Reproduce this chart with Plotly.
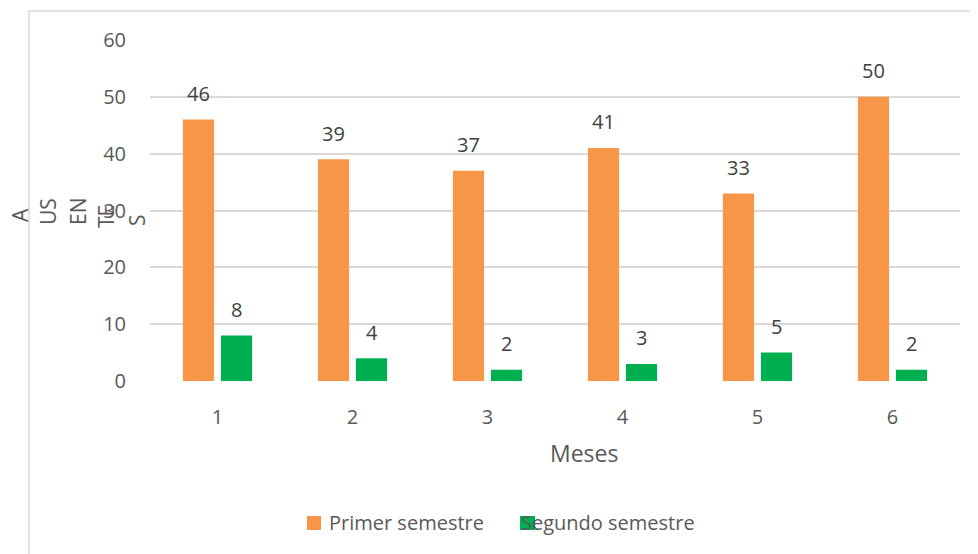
import plotly.graph_objects as go

meses = [1, 2, 3, 4, 5, 6]
primer = [46, 39, 37, 41, 33, 50]
segundo = [8, 4, 2, 3, 5, 2]
serie_nombres = ["Primer semestre", "Segundo semestre"]
y_ticks = [0, 10, 20, 30, 40, 50, 60]

ORANGE = "#F79646"
GREEN = "#00B050"
GRID = "#D9D9D9"
TXT = "#595959"
LBL = "#404040"
FONT = "Open Sans"

W, H = 978, 554
OFF = 8  # page body margin
L, T = 150 - OFF, 40 - OFF
R = W - (960 - OFF)
B = H - (381 - OFF)
PW = W - L - R
PH = H - T - B


def px(x):
    return (x - OFF - L) / PW


def py(y):
    return (H - B - (y - OFF)) / PH


fig = go.Figure()
fig.add_trace(go.Bar(x=meses, y=primer, name=serie_nombres[0], marker_color=ORANGE,
                     marker_line_width=0))
fig.add_trace(go.Bar(x=meses, y=segundo, name=serie_nombres[1], marker_color=GREEN,
                     marker_line_width=0))

ann = []
for m, v in zip(meses, primer):
    ann.append(dict(x=m, y=v, xref="x", yref="y", text=str(v), showarrow=False,
                    xshift=-19, yshift=26, font=dict(family=FONT, size=20, color=LBL)))
for m, v in zip(meses, segundo):
    ann.append(dict(x=m, y=v, xref="x", yref="y", text=str(v), showarrow=False,
                    xshift=19, yshift=26, font=dict(family=FONT, size=20, color=LBL)))

# Axis title "Meses"
ann.append(dict(x=px(584), y=py(453), xref="paper", yref="paper", text="Meses",
                showarrow=False, xanchor="center", yanchor="middle",
                font=dict(family=FONT, size=23, color=TXT)))

# Broken y-axis title "AUSENTES"
for txt, cx, cy in [("A", 20, 215), ("US", 48, 212), ("EN", 78, 212), ("TE", 106, 217), ("S", 137, 220)]:
    ann.append(dict(x=px(cx), y=py(cy), xref="paper", yref="paper", text=txt,
                    showarrow=False, textangle=-90, xanchor="center", yanchor="middle",
                    font=dict(family=FONT, size=21, color=TXT)))

# Legend texts
ann.append(dict(x=px(327), y=py(522), xref="paper", yref="paper", text=serie_nombres[0],
                showarrow=False, xanchor="left", yanchor="middle",
                font=dict(family=FONT, size=20, color=TXT)))
ann.append(dict(x=px(519), y=py(522), xref="paper", yref="paper", text=serie_nombres[1],
                showarrow=False, xanchor="left", yanchor="middle",
                font=dict(family=FONT, size=20, color=TXT)))

shapes = [
    # outer frame
    dict(type="rect", xref="paper", yref="paper", x0=px(29), x1=px(995), y0=py(580), y1=py(11),
         line=dict(color=GRID, width=1.5), fillcolor="rgba(0,0,0,0)", layer="below"),
    # legend swatches
    dict(type="rect", xref="paper", yref="paper", x0=px(307), x1=px(321), y0=py(530), y1=py(516),
         fillcolor=ORANGE, line=dict(width=0)),
    dict(type="rect", xref="paper", yref="paper", x0=px(520), x1=px(535), y0=py(530), y1=py(516),
         fillcolor=GREEN, line=dict(width=0), layer="below"),
]

fig.update_layout(
    width=W, height=H,
    margin=dict(l=L, r=R, t=T, b=B, autoexpand=False),
    paper_bgcolor="white", plot_bgcolor="white",
    barmode="group", bargap=0.437, bargroupgap=0.18,
    showlegend=False,
    annotations=ann, shapes=shapes,
    xaxis=dict(range=[0.5, 6.5], tickvals=meses, ticktext=[str(m) for m in meses],
               showgrid=False, zeroline=False, showline=False, ticks="",
               ticklabelstandoff=22, tickfont=dict(family=FONT, size=20, color=TXT)),
    yaxis=dict(range=[0, 60], tickvals=y_ticks, showgrid=True, gridcolor=GRID, gridwidth=1.5,
               zeroline=False, showline=False, ticks="", ticklabelstandoff=23,
               tickfont=dict(family=FONT, size=20, color=TXT)),
)

fig.write_html("out.html")
